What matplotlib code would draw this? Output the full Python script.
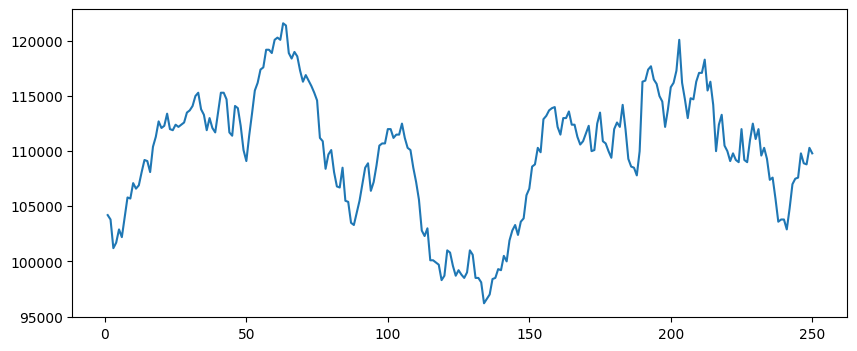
import numpy as np
import matplotlib
matplotlib.use("Agg")
import matplotlib.pyplot as plt

# daily values (x runs 1..250)
vals_1_50 = [104200, 103800, 101200, 101700, 102900, 102200, 104000, 105800, 105700, 107100,
             106600, 106900, 108100, 109200, 109100, 108100, 110400, 111300, 112700, 112100,
             112300, 113400, 112000, 111900, 112400, 112200, 112400, 112600, 113500, 113700,
             114100, 115000, 115300, 113800, 113300, 111900, 113000, 112100, 111700, 113500,
             115300, 115300, 114700, 111700, 111400, 114100, 113900, 112300, 110100, 109100]
vals_51_100 = [111400, 113400, 115500, 116200, 117400, 117600, 119200, 119200, 118900, 120100,
               120300, 120100, 121600, 121400, 118900, 118400, 119000, 118600, 117300, 116300,
               116900, 116400, 115900, 115300, 114600, 111200, 110900, 108400, 109700, 110100,
               108100, 106800, 106700, 108500, 105500, 105400, 103500, 103300, 104400, 105500,
               107000, 108500, 108900, 106400, 107200, 108700, 110500, 110700, 110700, 112000]
vals_101_150 = [112000, 111200, 111500, 111500, 112500, 111200, 110300, 110100, 108500, 107200,
                105600, 102800, 102300, 103000, 100100, 100100, 99900, 99700, 98300, 98700,
                101000, 100800, 99600, 98700, 99200, 98800, 98500, 99000, 101000, 100600,
                98500, 98500, 98100, 96200, 96600, 97000, 98400, 98500, 99300, 99200,
                100500, 100000, 101900, 102800, 103300, 102400, 103600, 103900, 106000, 106600]
vals_151_200 = [108600, 108800, 110300, 109900, 112900, 113200, 113700, 113900, 114000, 112200,
                111500, 113000, 113000, 113600, 112400, 112400, 111300, 110600, 110900, 111600,
                112300, 110000, 110100, 112500, 113500, 110900, 110700, 110000, 109400, 112000,
                112600, 112200, 114200, 112000, 109300, 108600, 108500, 107800, 110000, 116300,
                116400, 117400, 117700, 116500, 116100, 115000, 114500, 112200, 113800, 115800]
vals_201_250 = [116200, 117300, 120100, 116200, 114700, 113000, 114800, 114700, 116300, 117100,
                117100, 118300, 115500, 116300, 114200, 110000, 112400, 113300, 110500, 110000,
                109100, 109800, 109200, 109000, 112000, 109200, 109000, 111000, 112500, 111100,
                112000, 109600, 110300, 109300, 107400, 107600, 105700, 103600, 103800, 103800,
                102900, 104800, 107000, 107500, 107600, 109800, 108900, 108800, 110300, 109800]

values = vals_1_50 + vals_51_100 + vals_101_150 + vals_151_200 + vals_201_250
days = np.arange(1, len(values) + 1)

fig, ax = plt.subplots(figsize=(10, 4))
ax.plot(days, values, color='#1f77b4', lw=1.5)

plt.savefig("out.png", dpi=100, bbox_inches='tight')
plt.close()
